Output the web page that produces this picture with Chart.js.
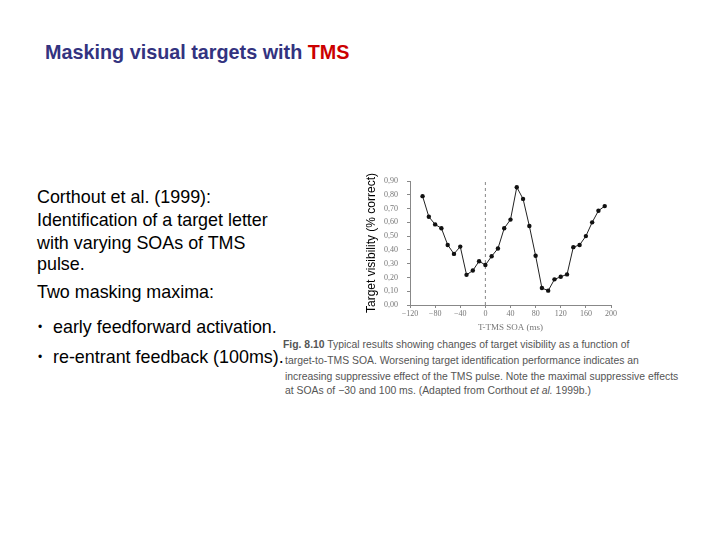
<!DOCTYPE html>
<html>
<head>
<meta charset="utf-8">
<script src="https://cdn.jsdelivr.net/npm/chart.js@4/dist/chart.umd.min.js"></script>
<style>
  body { margin: 0; width: 720px; height: 540px; background: #fff; position: relative; overflow: hidden;
         font-family: Arial, "Liberation Sans", sans-serif; }
  .t { position: absolute; white-space: nowrap; }
  #title { left: 45px; top: 41px; font-size: 19.8px; font-weight: bold; color: #333380; }
  #title span { color: #cc0000; }
  .side { left: 37px; font-size: 17.9px; line-height: 22px; color: #000; }
  .side .b { display: inline-block; width: 15px; font-size: 12px; vertical-align: 2px; padding-left: 1px; }
  .cap { left: 285px; font-size: 10.4px; line-height: 14px; color: #555; }
  #plot { position: absolute; left: 350px; top: 160px; width: 290px; height: 185px; }
</style>
</head>
<body>
<div class="t" id="title">Masking visual targets with <span>TMS</span></div>

<div class="t side" style="top:186px">Corthout et al. (1999):</div>
<div class="t side" style="top:209px">Identification of a target letter</div>
<div class="t side" style="top:232px">with varying SOAs of TMS</div>
<div class="t side" style="top:253px">pulse.</div>
<div class="t side" style="top:281px">Two masking maxima:</div>
<div class="t side" style="top:316px"><span class="b">&bull;</span>early feedforward activation.</div>
<div class="t side" style="top:346px"><span class="b">&bull;</span>re-entrant feedback (100ms).</div>

<div class="t cap" style="top:338px; left:283px"><b>Fig. 8.10</b> Typical results showing changes of target visibility as a function of</div>
<div class="t cap" style="top:354px">target-to-TMS SOA. Worsening target identification performance indicates an</div>
<div class="t cap" style="top:370px">increasing suppressive effect of the TMS pulse. Note the maximal suppressive effects</div>
<div class="t cap" style="top:384px">at SOAs of &minus;30 and 100 ms. (Adapted from Corthout <i>et al.</i> 1999b.)</div>

<canvas id="plot" width="290" height="185"></canvas>

<script>
// target-to-TMS SOA (ms) and target visibility (proportion correct)
const soaMs = [-100, -90, -80, -70, -60, -50, -40, -30, -20, -10, 0, 10, 20, 30, 40,
               50, 60, 70, 80, 90, 100, 110, 120, 130, 140, 150, 160, 170, 180, 190];
const visibility = [0.79, 0.64, 0.585, 0.557, 0.436, 0.371, 0.424, 0.219, 0.25, 0.318, 0.29, 0.354, 0.41, 0.557, 0.62,
                    0.855, 0.77, 0.573, 0.357, 0.123, 0.104, 0.186, 0.205, 0.222, 0.42, 0.436, 0.50, 0.60, 0.684, 0.718];
const xTicks = [-120, -80, -40, 0, 40, 80, 120, 160, 200];
const yTicks = [0, 0.1, 0.2, 0.3, 0.4, 0.5, 0.6, 0.7, 0.8, 0.9];
const stimulusOnset = [0];

const tickFont = { family: '"Liberation Serif", "DejaVu Serif", serif', size: 8 };

new Chart(document.getElementById('plot'), {
    type: 'scatter',
    data: {
        datasets: [{
            data: soaMs.map((x, i) => ({ x: x, y: visibility[i] })),
            showLine: true,
            borderColor: '#222',
            borderWidth: 1,
            backgroundColor: '#111',
            pointRadius: 2.2,
            pointBorderWidth: 0
        }, {
            data: [{ x: stimulusOnset[0], y: yTicks[0] }, { x: stimulusOnset[0], y: yTicks[yTicks.length - 1] }],
            showLine: true,
            borderColor: '#888',
            borderWidth: 1,
            borderDash: [3, 3],
            pointRadius: 0
        }]
    },
    options: {
        responsive: false,
        animation: false,
        layout: { padding: { top: 21, right: 29, left: 0, bottom: 0 } },
        plugins: { legend: { display: false }, tooltip: { enabled: false } },
        scales: {
            x: {
                type: 'linear',
                min: xTicks[0],
                max: xTicks[xTicks.length - 1],
                afterFit: s => { s.height = 40; },
                afterBuildTicks: s => { s.ticks = xTicks.map(v => ({ value: v })); },
                border: { color: '#888', width: 1 },
                grid: { drawOnChartArea: false, color: '#888', tickLength: 3 },
                ticks: {
                    color: '#777', font: tickFont, padding: 1, maxRotation: 0,
                    callback: v => (v < 0 ? '\u2212' + Math.abs(v) : String(v))
                },
                title: {
                    display: true, text: 'T-TMS SOA (ms)', color: '#777',
                    font: { family: '"Liberation Serif", serif', size: 9 },
                    padding: { top: 0, bottom: 12 }
                }
            },
            y: {
                min: yTicks[0],
                max: yTicks[yTicks.length - 1],
                afterFit: s => { s.width = 60; },
                afterBuildTicks: s => { s.ticks = yTicks.map(v => ({ value: v })); },
                border: { color: '#888', width: 1 },
                grid: { drawOnChartArea: false, color: '#888', tickLength: 3 },
                ticks: {
                    color: '#777', font: tickFont, padding: 9,
                    callback: v => v.toFixed(2).replace('.', ',')
                },
                title: {
                    display: true, text: 'Target visibility (% correct)', color: '#000',
                    font: { family: 'Arial, "Liberation Sans", sans-serif', size: 12 },
                    padding: { top: 14, bottom: 0 }
                }
            }
        }
    }
});
</script>
</body>
</html>
